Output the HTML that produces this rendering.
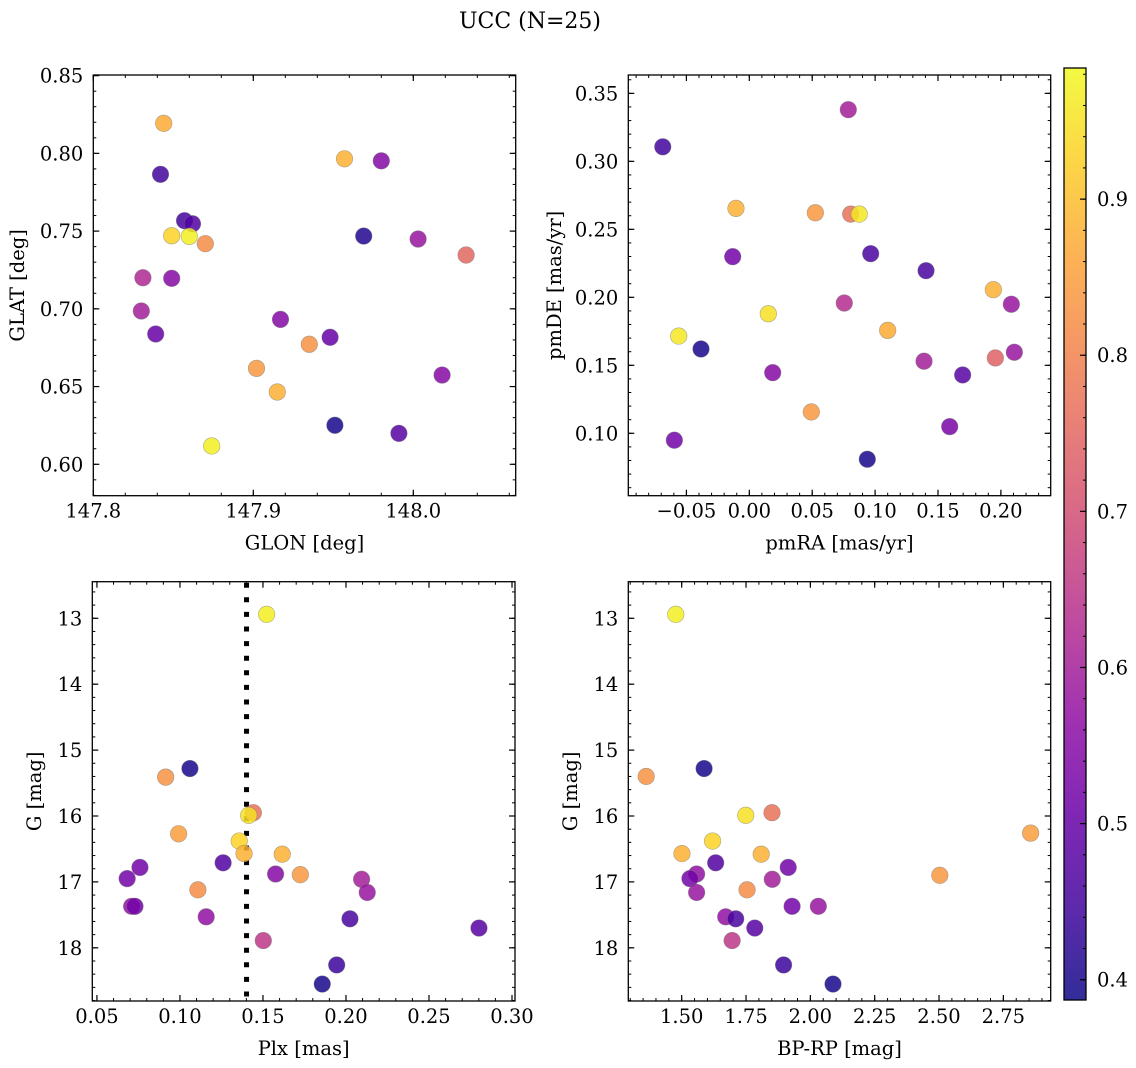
<!DOCTYPE html>
<html><head><meta charset="utf-8">
<style>
html,body{margin:0;padding:0;background:#fff;}
svg{display:block;}
svg text{font-family:"DejaVu Serif","Liberation Serif",serif;}
</style></head>
<body>
<svg id="fig" width="1136" height="1068" viewBox="0 0 1136 1068" xmlns="http://www.w3.org/2000/svg">
<rect x="0" y="0" width="1136" height="1068" fill="#fff"/>
<text x="530" y="28" font-size="22" text-anchor="middle">UCC (N=25)</text>
</svg>
<script>
// ---- Panel 1: GLON vs GLAT ----
const glonVals=[147.844,147.957,147.980,147.842,147.857,147.862,147.849,147.860,147.870,147.969,148.003,148.033,147.831,147.849,147.830,147.839,147.917,147.948,147.935,147.902,148.018,147.915,147.951,147.991,147.874];
const glatVals=[0.8193,0.7965,0.7952,0.7865,0.7567,0.7547,0.747,0.7466,0.7419,0.7468,0.7449,0.7346,0.720,0.7196,0.6986,0.6838,0.6932,0.6817,0.6772,0.6617,0.6574,0.6465,0.6251,0.6199,0.6118];
const probP1=[0.87,0.88,0.55,0.45,0.45,0.47,0.93,0.97,0.82,0.41,0.58,0.75,0.62,0.55,0.60,0.50,0.55,0.50,0.83,0.84,0.55,0.88,0.40,0.48,0.97];
// ---- Panel 2: pmRA vs pmDE ----
const pmraVals=[0.0787,-0.0688,-0.0106,0.0525,0.0806,0.0874,-0.0132,0.0965,0.1405,0.194,0.2083,0.0755,0.0151,0.110,-0.0561,-0.0384,0.2107,0.1956,0.1389,0.0186,0.1696,0.0493,0.1593,-0.0596,0.0938];
const pmdeVals=[0.338,0.3107,0.2654,0.2622,0.2612,0.2612,0.2299,0.2321,0.2196,0.2056,0.1949,0.1958,0.1879,0.1757,0.1715,0.162,0.1596,0.1554,0.153,0.1446,0.1429,0.1157,0.1049,0.0949,0.0809];
const probP2=[0.60,0.45,0.88,0.84,0.77,0.96,0.52,0.46,0.46,0.88,0.58,0.63,0.95,0.87,0.96,0.40,0.58,0.74,0.60,0.55,0.48,0.84,0.53,0.52,0.40];
// ---- Panel 3: Plx vs G ----
const plxVals=[0.1522,0.106,0.0914,0.1442,0.1414,0.0992,0.1357,0.1386,0.1616,0.126,0.0759,0.0682,0.1576,0.1725,0.2094,0.2128,0.1108,0.0709,0.0729,0.1158,0.2024,0.2801,0.1502,0.1944,0.1857];
const gP3Vals=[12.94,15.28,15.41,15.95,15.99,16.27,16.38,16.57,16.58,16.71,16.78,16.95,16.88,16.89,16.96,17.16,17.12,17.37,17.37,17.53,17.56,17.70,17.89,18.26,18.55];
const probP3=[0.97,0.40,0.83,0.77,0.95,0.85,0.93,0.88,0.88,0.47,0.52,0.52,0.55,0.84,0.60,0.58,0.82,0.57,0.52,0.57,0.46,0.48,0.65,0.44,0.40];
const plxRef=[0.1401];
// ---- Panel 4: BP-RP vs G ----
const bprpVals=[1.477,1.587,1.362,1.851,1.749,1.620,1.501,1.809,1.632,2.856,1.914,1.558,1.532,1.852,2.503,1.754,1.558,1.929,2.031,1.671,1.710,1.784,1.696,1.896,2.088];
const gP4Vals=[12.94,15.28,15.40,15.95,15.99,16.38,16.57,16.58,16.71,16.26,16.78,16.88,16.95,16.96,16.90,17.12,17.16,17.37,17.37,17.53,17.56,17.70,17.89,18.26,18.55];
const probP4=[0.97,0.40,0.83,0.77,0.95,0.93,0.88,0.88,0.47,0.85,0.52,0.57,0.52,0.60,0.84,0.82,0.58,0.52,0.58,0.57,0.46,0.48,0.65,0.44,0.40];
// ---- ticks ----
const p1XTicks=[147.8,147.9,148.0];
const p1XLabels=["147.8","147.9","148.0"];
const p1YTicks=[0.60,0.65,0.70,0.75,0.80,0.85];
const p1YLabels=["0.60","0.65","0.70","0.75","0.80","0.85"];
const p2XTicks=[-0.05,0.00,0.05,0.10,0.15,0.20];
const p2XLabels=["\u22120.05","0.00","0.05","0.10","0.15","0.20"];
const p2YTicks=[0.10,0.15,0.20,0.25,0.30,0.35];
const p2YLabels=["0.10","0.15","0.20","0.25","0.30","0.35"];
const p3XTicks=[0.05,0.10,0.15,0.20,0.25,0.30];
const p3XLabels=["0.05","0.10","0.15","0.20","0.25","0.30"];
const gTicks=[13,14,15,16,17,18];
const gLabels=["13","14","15","16","17","18"];
const p4XTicks=[1.50,1.75,2.00,2.25,2.50,2.75];
const p4XLabels=["1.50","1.75","2.00","2.25","2.50","2.75"];
const cbTicks=[0.4,0.5,0.6,0.7,0.8,0.9];
const cbLabels=["0.4","0.5","0.6","0.7","0.8","0.9"];
const cbRange=[0.387,0.984];

const NS="http://www.w3.org/2000/svg";
const svg=document.getElementById('fig');
const FS=19.5;
function mk(tag,attrs,parent){const e=document.createElementNS(NS,tag);for(const k in attrs)e.setAttribute(k,attrs[k]);(parent||svg).appendChild(e);return e;}

const PL=[[13,8,135],[65,4,157],[106,0,168],[143,13,164],[177,42,144],[204,71,120],[225,100,98],[242,132,75],[252,166,54],[252,206,37],[240,249,33]];
function plasma(t){t=Math.max(0,Math.min(1,t));const f=t*10,i=Math.min(9,Math.floor(f)),u=f-i;const a=PL[i],b=PL[i+1];
 return 'rgb('+[0,1,2].map(k=>Math.round(a[k]+(b[k]-a[k])*u)).join(',')+')';}
function cmap(v){return plasma((v-cbRange[0])/(cbRange[1]-cbRange[0]));}

function panel(cfg){
 const g=mk('g',{});
 
 
 const sx=v=>cfg.x0+(v-cfg.xd[0])/(cfg.xd[1]-cfg.xd[0])*(cfg.x1-cfg.x0);
 const sy=v=>cfg.inv? cfg.y0+(v-cfg.yd[0])/(cfg.yd[1]-cfg.yd[0])*(cfg.y1-cfg.y0)
                    : cfg.y1-(v-cfg.yd[0])/(cfg.yd[1]-cfg.yd[0])*(cfg.y1-cfg.y0);
 const xlo=Math.min(...cfg.xd),xhi=Math.max(...cfg.xd);
 for(let k=Math.ceil(xlo/cfg.xm-1e-6);k*cfg.xm<=xhi+1e-9;k++){const x=sx(k*cfg.xm);
  const t1=mk('line',{x1:x,x2:x,y1:cfg.y1,y2:cfg.y1-3,stroke:'#000','stroke-width':1},g);
  
  const t2=mk('line',{x1:x,x2:x,y1:cfg.y0,y2:cfg.y0+3,stroke:'#000','stroke-width':1},g);
  }
 const ylo=Math.min(...cfg.yd),yhi=Math.max(...cfg.yd);
 for(let k=Math.ceil(ylo/cfg.ym-1e-6);k*cfg.ym<=yhi+1e-9;k++){const y=sy(k*cfg.ym);
  const t1=mk('line',{x1:cfg.x0,x2:cfg.x0+3,y1:y,y2:y,stroke:'#000','stroke-width':1},g);
  
  const t2=mk('line',{x1:cfg.x1,x2:cfg.x1-3,y1:y,y2:y,stroke:'#000','stroke-width':1},g);
  }
 cfg.xt.forEach((v,i)=>{const x=sx(v);
  const t1=mk('line',{x1:x,x2:x,y1:cfg.y1,y2:cfg.y1-6,stroke:'#000','stroke-width':1.2},g);
  
  const t2=mk('line',{x1:x,x2:x,y1:cfg.y0,y2:cfg.y0+6,stroke:'#000','stroke-width':1.2},g);
  
  const tl=mk('text',{x:x,y:cfg.y1+22,'font-size':FS,'text-anchor':'middle'},g);tl.textContent=cfg.xl[i];
  });
 cfg.yt.forEach((v,i)=>{const y=sy(v);
  const t1=mk('line',{x1:cfg.x0,x2:cfg.x0+6,y1:y,y2:y,stroke:'#000','stroke-width':1.2},g);
  
  const t2=mk('line',{x1:cfg.x1,x2:cfg.x1-6,y1:y,y2:y,stroke:'#000','stroke-width':1.2},g);
  
  const tl=mk('text',{x:cfg.x0-10,y:y+7,'font-size':FS,'text-anchor':'end'},g);tl.textContent=cfg.yl[i];
  });
 if(cfg.vline){cfg.vline.forEach(v=>{const x=sx(v);
  const l=mk('line',{x1:x,x2:x,y1:cfg.y0+1,y2:cfg.y1,stroke:'#000','stroke-width':5,'stroke-dasharray':'5 9.6'},g);
  });}
 cfg.xs.forEach((v,i)=>{
  const c=mk('circle',{cx:sx(v),cy:sy(cfg.ys[i]),r:8.3,fill:cmap(cfg.cs[i]),'fill-opacity':0.85,stroke:'#777','stroke-opacity':0.6,'stroke-width':0.6},g);
  });
 const fr=mk('rect',{x:cfg.x0,y:cfg.y0,width:cfg.x1-cfg.x0,height:cfg.y1-cfg.y0,fill:'none',stroke:'#000','stroke-width':1.3},g);
 
 const xt=mk('text',{x:(cfg.x0+cfg.x1)/2,y:cfg.y1+54,'font-size':FS,'text-anchor':'middle'},g);xt.textContent=cfg.xlab;
 
 const yc=(cfg.y0+cfg.y1)/2;
 const yt=mk('text',{x:cfg.ylx,y:yc,'font-size':FS,'text-anchor':'middle',transform:'rotate(-90 '+cfg.ylx+' '+yc+')'},g);yt.textContent=cfg.ylab;
 
}

panel({name:'panel-glon-glat',x0:93.3,x1:515.7,y0:75,y1:495.7,xd:[147.8,148.064],yd:[0.5798,0.8504],xm:0.02,ym:0.01,
 xt:p1XTicks,xl:p1XLabels,yt:p1YTicks,yl:p1YLabels,xs:glonVals,ys:glatVals,cs:probP1,xlab:'GLON [deg]',ylab:'GLAT [deg]',ylx:24});
panel({name:'panel-pmra-pmde',x0:628.3,x1:1050.7,y0:75,y1:495.7,xd:[-0.0962,0.2396],yd:[0.0541,0.3635],xm:0.01,ym:0.01,
 xt:p2XTicks,xl:p2XLabels,yt:p2YTicks,yl:p2YLabels,xs:pmraVals,ys:pmdeVals,cs:probP2,xlab:'pmRA [mas/yr]',ylab:'pmDE [mas/yr]',ylx:561});
panel({name:'panel-plx-g',x0:92.3,x1:515,y0:581.7,y1:1001,xd:[0.0472,0.3018],yd:[12.445,18.807],inv:true,xm:0.01,ym:0.2,
 xt:p3XTicks,xl:p3XLabels,yt:gTicks,yl:gLabels,xs:plxVals,ys:gP3Vals,cs:probP3,xlab:'Plx [mas]',ylab:'G [mag]',ylx:41,vline:plxRef});
panel({name:'panel-bprp-g',x0:628.3,x1:1050.7,y0:581.7,y1:1001,xd:[1.2925,2.934],yd:[12.445,18.807],inv:true,xm:0.05,ym:0.2,
 xt:p4XTicks,xl:p4XLabels,yt:gTicks,yl:gLabels,xs:bprpVals,ys:gP4Vals,cs:probP4,xlab:'BP-RP [mag]',ylab:'G [mag]',ylx:577});

// colorbar
(function(){
 const x0=1064,x1=1086,y0=68,y1=1000;
 const g=mk('g',{});
 
 
 const defs=mk('defs',{},g);
 const lg=mk('linearGradient',{id:'cbg',x1:0,y1:1,x2:0,y2:0},defs);
 for(let i=0;i<=20;i++){mk('stop',{offset:(i/20),'stop-color':plasma(i/20),'stop-opacity':0.85},lg);}
 const r=mk('rect',{x:x0,y:y0,width:x1-x0,height:y1-y0,fill:'url(#cbg)',stroke:'#000','stroke-width':1.3},g);
 
 const sy=v=>y1-(v-cbRange[0])/(cbRange[1]-cbRange[0])*(y1-y0);
 for(let k=Math.ceil(cbRange[0]/0.02);k*0.02<=cbRange[1];k++){const y=sy(k*0.02);
  const t=mk('line',{x1:x1,x2:x1-3,y1:y,y2:y,stroke:'#000','stroke-width':1},g);
  }
 cbTicks.forEach((v,i)=>{const y=sy(v);
  const t=mk('line',{x1:x1,x2:x1-6,y1:y,y2:y,stroke:'#000','stroke-width':1.2},g);
  
  const tl=mk('text',{x:x1+11,y:y+7,'font-size':FS,},g);tl.textContent=cbLabels[i];
  });
})();
</script>
</body></html>
